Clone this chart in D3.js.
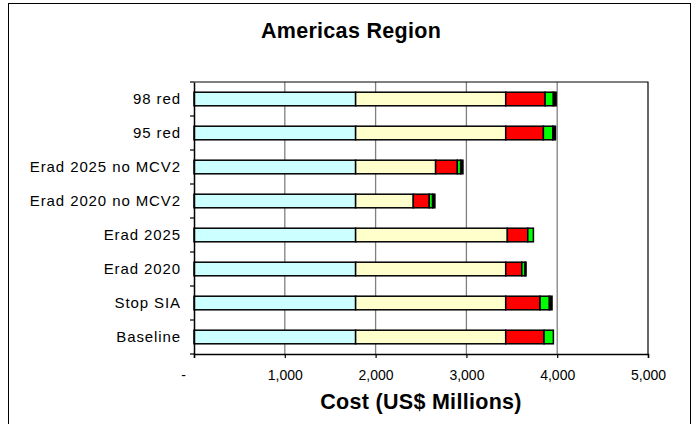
<!DOCTYPE html>
<html><head><meta charset="utf-8">
<script src="https://cdn.jsdelivr.net/npm/d3@7/dist/d3.min.js"></script>
<style>body{margin:0;background:#fff}svg{display:block;font-family:"Liberation Sans",Arial,sans-serif}</style>
</head><body>
<script>
const categories = ["98 red","95 red","Erad 2025 no MCV2","Erad 2020 no MCV2","Erad 2025","Erad 2020","Stop SIA","Baseline"];
const seriesNames = ["s1","s2","s3","s4","s5"];
const s1 = [1780,1780,1780,1780,1780,1780,1780,1780];
const s2 = [1653,1653,881,635,1671,1653,1653,1653];
const s3 = [434,415,239,176,225,177,378,422];
const s4 = [91,103,37,37,62,36,103,103];
const s5 = [30,30,25,25,0,11,29,0];
const colors = ["#CCFFFF","#FFFFCC","#FF0000","#00FF00","#000000"];
const xTicks = [0,1000,2000,3000,4000,5000];

const W=697,H=424;
const svg=d3.select("body").append("svg").attr("width",W).attr("height",H);
svg.append("rect").attr("x",8.5).attr("y",3.5).attr("width",682).attr("height",440).attr("fill","#fff").attr("stroke","#000").attr("stroke-width",1);

const L=194,R=648,T=82,B=354;
const x=d3.scaleLinear().domain([0,5000]).range([L,R]);
const y=d3.scaleBand().domain(categories).range([T,B]).paddingInner(0.6).paddingOuter(0.3);
const yb=d3.scaleBand().domain(categories).range([T,B]);

// gridlines
svg.append("g").selectAll("line").data(xTicks.slice(1,-1)).join("line")
 .attr("x1",d=>x(d)).attr("x2",d=>x(d)).attr("y1",T).attr("y2",B).attr("stroke","#808080").attr("stroke-width",1.3);
// plot border top/right
svg.append("path").attr("d",`M${L},${T}H${R}V${B}`).attr("fill","none").attr("stroke","#000").attr("stroke-width",1.2);

const rows = categories.map((c,i)=>{const v=[s1[i],s2[i],s3[i],s4[i],s5[i]];let acc=0;return v.map((d,k)=>{const o={c,k,x0:acc,x1:acc+d};acc+=d;return o;});}).flat().filter(d=>d.x1>d.x0);
svg.append("g").selectAll("rect").data(rows).join("rect")
 .attr("x",d=>x(d.x0)).attr("width",d=>x(d.x1)-x(d.x0))
 .attr("y",d=>y(d.c)).attr("height",y.bandwidth())
 .attr("fill",d=>colors[d.k]).attr("stroke","#000").attr("stroke-width",1.5);

// x axis
const xa=svg.append("g").attr("transform",`translate(0,${B})`)
 .call(d3.axisBottom(x).tickValues(xTicks).tickSize(4).tickPadding(12).tickFormat(d=>d===0?"-":d3.format(",")(d)));
xa.select(".domain").attr("stroke","#000").attr("stroke-width",1.5);
xa.selectAll(".tick line").attr("stroke","#000").attr("stroke-width",1.2);
xa.selectAll("text").attr("font-size",14).attr("fill","#000").attr("font-family","Liberation Sans, Arial, sans-serif");
xa.selectAll(".tick").filter(d=>d===0).select("text").attr("dx",-11);

// y axis with ticks at band boundaries
const ya=svg.append("g").attr("transform",`translate(${L},0)`)
 .call(d3.axisLeft(yb).tickSize(0).tickPadding(13));
ya.select(".domain").attr("stroke","#000").attr("stroke-width",1.5);
ya.selectAll("text").attr("font-size",15).attr("letter-spacing",0.9).attr("fill","#000").attr("font-family","Liberation Sans, Arial, sans-serif");
svg.append("g").selectAll("line").data(d3.range(categories.length+1)).join("line")
 .attr("x1",L-4).attr("x2",L).attr("y1",i=>T+i*yb.step()).attr("y2",i=>T+i*yb.step()).attr("stroke","#000").attr("stroke-width",1.2);

svg.append("text").attr("x",351).attr("y",38).attr("text-anchor","middle").attr("font-size",21.5).attr("letter-spacing",0.3).attr("font-weight","bold").text("Americas Region");
svg.append("text").attr("x",421).attr("y",409).attr("text-anchor","middle").attr("font-size",21.5).attr("letter-spacing",0.3).attr("font-weight","bold").text("Cost (US$ Millions)");
</script>
</body></html>
